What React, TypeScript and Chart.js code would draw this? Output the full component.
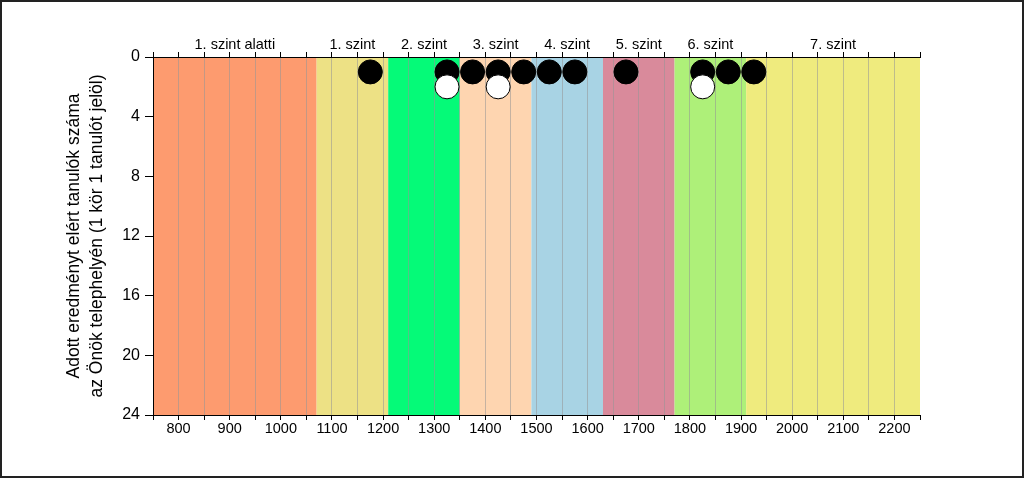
import React, { useEffect, useRef } from "react";
import { Chart, registerables } from "chart.js";

Chart.register(...registerables);

const bandStarts = [750, 1070, 1210, 1350, 1490, 1630, 1770, 1910];
const bandEnds = [1070, 1210, 1350, 1490, 1630, 1770, 1910, 2250];
const bandLabels = ["1. szint alatti", "1. szint", "2. szint", "3. szint", "4. szint", "5. szint", "6. szint", "7. szint"];
const bandColors = ["#FD9B6F", "#EDE185", "#05FA78", "#FED5B0", "#A8D3E4", "#D98A9B", "#AEF079", "#EFEB7E"];

const blackX = [1175, 1325, 1375, 1425, 1475, 1525, 1575, 1675, 1825, 1875, 1925];
const blackY = [1, 1, 1, 1, 1, 1, 1, 1, 1, 1, 1];
const whiteX = [1325, 1425, 1825];
const whiteY = [2, 2, 2];

const yTitle = ["Adott eredményt elért tanulók száma", "az Önök telephelyén (1 kör 1 tanulót jelöl)"];
const FONT = "'Liberation Sans', Arial, sans-serif";

const bandsPlugin = {
  id: "bands",
  beforeDraw(chart: any) {
    const { ctx, chartArea, scales } = chart;
    const x = scales.x;
    ctx.save();
    ctx.fillStyle = "#ffffff";
    ctx.fillRect(0, 0, chart.width, chart.height);
    for (let i = 0; i < bandStarts.length; i++) {
      const x0 = x.getPixelForValue(bandStarts[i]);
      const x1 = x.getPixelForValue(bandEnds[i]);
      ctx.fillStyle = bandColors[i];
      ctx.fillRect(x0, chartArea.top, x1 - x0, chartArea.bottom - chartArea.top);
    }
    ctx.restore();
  },
  afterDraw(chart: any) {
    const { ctx, scales } = chart;
    const x = scales.x;
    ctx.save();
    ctx.fillStyle = "#000";
    ctx.font = `14.5px ${FONT}`;
    ctx.textAlign = "center";
    ctx.textBaseline = "alphabetic";
    for (let i = 0; i < bandStarts.length; i++) {
      const c = x.getPixelForValue((bandStarts[i] + bandEnds[i]) / 2);
      ctx.fillText(bandLabels[i], c, 49);
    }
    ctx.strokeStyle = "#222";
    ctx.lineWidth = 2;
    ctx.strokeRect(1, 1, chart.width - 2, chart.height - 2);
    ctx.restore();
  },
};

export default function App() {
  const ref = useRef<HTMLCanvasElement | null>(null);
  useEffect(() => {
    if (!ref.current) return;
    const chart = new Chart(ref.current, {
      type: "scatter",
      data: {
        datasets: [
          {
            data: whiteX.map((v, i) => ({ x: v, y: whiteY[i] })),
            backgroundColor: "#ffffff",
            borderColor: "#000000",
            borderWidth: 1,
            pointRadius: 12,
            order: 0,
          },
          {
            data: blackX.map((v, i) => ({ x: v, y: blackY[i] })),
            backgroundColor: "#000000",
            borderColor: "#000000",
            borderWidth: 1,
            pointRadius: 12,
            order: 1,
          },
        ],
      },
      options: {
        responsive: false,
        animation: false,
        layout: { padding: { left: 0, top: 0, right: 104, bottom: 0 } },
        plugins: { legend: { display: false }, tooltip: { enabled: false } },
        scales: {
          x: {
            type: "linear",
            position: "bottom",
            min: 750,
            max: 2250,
            afterFit: (s: any) => { s.height = 63; },
            ticks: {
              stepSize: 50,
              autoSkip: false,
              maxRotation: 0,
              padding: 0,
              color: "#000",
              font: { family: FONT, size: 14.5 },
              callback: (v: any) => (Number(v) % 100 === 0 ? String(v) : ""),
            },
            grid: {
              color: (c: any) => (c.tick && (c.tick.value === 2250 || c.tick.value === 750) ? "rgba(0,0,0,0)" : "rgba(150,150,150,0.55)"),
              tickColor: "#000",
              tickLength: 5,
              lineWidth: 1,
            },
            border: { display: true, color: "#000" },
          },
          x2: {
            type: "linear",
            position: "top",
            min: 750,
            max: 2250,
            afterFit: (s: any) => { s.height = 57; },
            ticks: { stepSize: 50, autoSkip: false, display: false },
            grid: { drawOnChartArea: false, tickColor: "#000", tickLength: 5 },
            border: { display: true, color: "#000" },
          },
          y: {
            type: "linear",
            reverse: true,
            min: 0,
            max: 24,
            afterFit: (s: any) => { s.width = 153; },
            ticks: {
              stepSize: 4,
              padding: 5,
              color: "#000",
              font: { family: FONT, size: 16 },
            },
            grid: { drawOnChartArea: false, tickColor: "#000", tickLength: 8 },
            border: { display: true, color: "#000" },
            title: {
              display: true,
              text: yTitle,
              color: "#000",
              font: { family: FONT, size: 17.5, lineHeight: 1.3 },
              padding: { top: 63, bottom: 0 },
            },
          },
        },
      },
      plugins: [bandsPlugin],
    } as any);
    return () => chart.destroy();
  }, []);
  return (
    <div style={{ position: "absolute", left: 0, top: 0, width: 1024, height: 478 }}>
      <canvas ref={ref} width={1024} height={478} style={{ display: "block" }} />
    </div>
  );
}
